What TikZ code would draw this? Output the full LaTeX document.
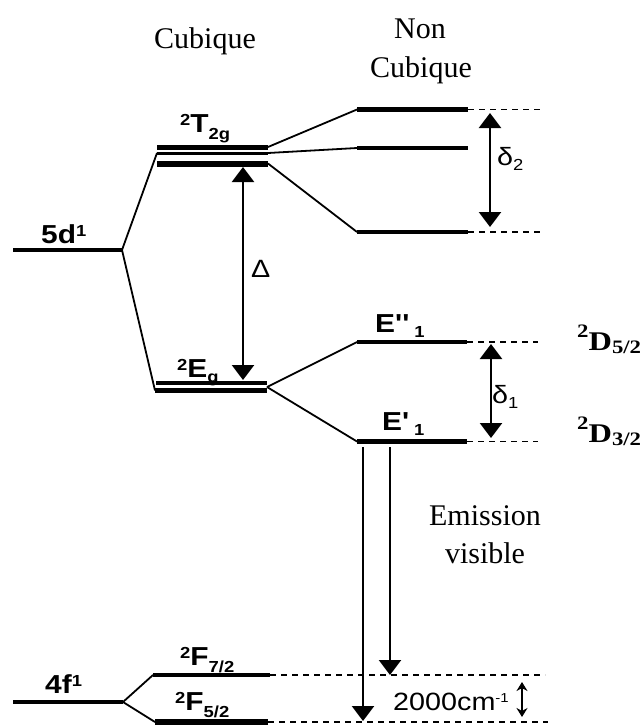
\documentclass[tikz,border=0pt]{standalone}
\usepackage{fontspec}
\setmainfont{Liberation Serif}
\newfontfamily\hv{Liberation Sans}
\usetikzlibrary{arrows.meta}
\newcommand\lsup[2][7pt]{\raisebox{#1}{\fontsize{16}{16}\selectfont #2}}
\newcommand\lsub[2][-6pt]{\raisebox{#1}{\fontsize{16}{16}\selectfont #2}}
\newcommand\hsc[1]{\scalebox{1.15}[1]{#1}}
\begin{document}
\begin{tikzpicture}[x=1pt,y=-1pt,
  lev/.style={line width=4.5pt},
  conn/.style={line width=1.8pt},
  dsh/.style={line width=1.4pt, dash pattern=on 6pt off 5pt},
  arr/.style={line width=2.5pt, -{Triangle[width=22pt,length=15pt]}},
  darr/.style={line width=2.5pt, {Triangle[width=22pt,length=15pt]}-{Triangle[width=22pt,length=15pt]}},
  sarr/.style={line width=2pt, {Stealth[width=11pt,length=9pt]}-{Stealth[width=11pt,length=9pt]}},
  lab/.style={font=\hv\bfseries\fontsize{26}{26}\selectfont, inner sep=0pt, anchor=base west},
  rlab/.style={font=\hv\fontsize{25}{25}\selectfont, inner sep=0pt, anchor=base west},
  ser/.style={font=\fontsize{30}{36}\selectfont, inner sep=0pt, anchor=base},
  dlab/.style={font=\bfseries\fontsize{27}{27}\selectfont, inner sep=0pt, anchor=base west},
]
\useasboundingbox (0,0) rectangle (644,726);
% ---- coordinates of levels
\coordinate (d5L) at (13,250);   \coordinate (d5R) at (122,250);
\coordinate (t1L) at (157,147);  \coordinate (t1R) at (268,147);
\coordinate (t2L) at (157,153);  \coordinate (t2R) at (268,153);
\coordinate (t3L) at (157,163.5);\coordinate (t3R) at (268,163.5);
\coordinate (n1L) at (357,109.5);\coordinate (n1R) at (468,109.5); \coordinate (n1D) at (540,109.5);
\coordinate (n2L) at (357,148);  \coordinate (n2R) at (468,148);
\coordinate (n3L) at (357,232);  \coordinate (n3R) at (468,232);  \coordinate (n3D) at (540,232);
\coordinate (e1L) at (156,383);  \coordinate (e1R) at (267,383);
\coordinate (e2L) at (155,390.5);\coordinate (e2R) at (267,390.5);
\coordinate (eR) at (267,387);
\coordinate (ppL) at (357,342);  \coordinate (ppR) at (467,342);  \coordinate (ppD) at (538,342);
\coordinate (pL) at (357,441.5); \coordinate (pR) at (467,441.5); \coordinate (pD) at (538,441.5);
\coordinate (f4L) at (13,702);   \coordinate (f4R) at (123,702);
\coordinate (f7L) at (153,675);  \coordinate (f7R) at (270,675);  \coordinate (f7D) at (545,675);
\coordinate (f5L) at (155,722);  \coordinate (f5R) at (268,722);  \coordinate (f5D) at (548,722);
% ---- arrow end points
\coordinate (DeT) at (243,167);  \coordinate (DeB) at (243,380);
\coordinate (d2T) at (490,113);  \coordinate (d2B) at (490,227);
\coordinate (d1T) at (491,344);  \coordinate (d1B) at (491,438);
\coordinate (m1S) at (363,447);  \coordinate (m1E) at (363,721);
\coordinate (m2S) at (390,447);  \coordinate (m2E) at (390,675);
\coordinate (sT) at (522,682);   \coordinate (sB) at (522,717);
% ---- levels
\draw[lev] (d5L) -- (d5R);
\draw[line width=5pt] (t1L) -- (t1R);
\draw[line width=3pt] (t2L) -- (t2R);
\draw[line width=6pt] (t3L) -- (t3R);
\draw[lev] (n1L) -- (n1R);
\draw[lev] (n2L) -- (n2R);
\draw[lev] (n3L) -- (n3R);
\draw[lev] (e1L) -- (e1R);
\draw[lev] (e2L) -- (e2R);
\draw[lev] (ppL) -- (ppR);
\draw[lev] (pL) -- (pR);
\draw[lev] (f4L) -- (f4R);
\draw[lev] (f7L) -- (f7R);
\draw[line width=5.5pt] (f5L) -- (f5R);
% ---- dashed extensions
\draw[dsh] (n1R) -- (n1D);
\draw[dsh] (n3R) -- (n3D);
\draw[dsh] (ppR) -- (ppD);
\draw[dsh] (pR) -- (pD);
\draw[dsh] (f7R) -- (f7D);
\draw[dsh] (f5R) -- (f5D);
% ---- correlation lines
\draw[conn] (d5R) -- (t2L);
\draw[conn] (d5R) -- (e2L);
\draw[conn] (t1R) -- (n1L);
\draw[conn] (t2R) -- (n2L);
\draw[conn] (t3R) -- (n3L);
\draw[conn] (eR) -- (ppL);
\draw[conn] (eR) -- (pL);
\draw[conn] (f4R) -- (f7L);
\draw[conn] (f4R) -- (f5L);
% ---- arrows
\draw[darr] (DeT) -- (DeB);
\draw[darr] (d2T) -- (d2B);
\draw[darr] (d1T) -- (d1B);
\draw[arr] (m1S) -- (m1E);
\draw[arr] (m2S) -- (m2E);
\draw[sarr] (sT) -- (sB);
% ---- serif titles
\node[ser] (tcub) at (205,48) {Cubique};
\node[ser] (tnon) at (420,38) {Non};
\node[ser] (tnc) at (421,77) {Cubique};
\node[ser] (tem) at (485,525) {Emission};
\node[ser] (tvis) at (485,563) {visible};
\node[dlab] (D52) at (577,350) {\scalebox{1.2}[1]{\raisebox{13pt}{\fontsize{19}{19}\selectfont 2}D\raisebox{-3pt}{\fontsize{19}{19}\selectfont 5/2}}};
\node[dlab] (D32) at (577,442) {\scalebox{1.2}[1]{\raisebox{13pt}{\fontsize{19}{19}\selectfont 2}D\raisebox{-3pt}{\fontsize{19}{19}\selectfont 3/2}}};
% ---- level labels
\node[lab] (l5d) at (41,243) {\hsc{5d\lsup{1}}};
\node[lab] (lT) at (180,132) {\hsc{\lsup{2}T\lsub[-7pt]{2g}}};
\node[lab] (lE) at (177,377) {\hsc{\lsup{2}E\lsub[-5pt]{g}}};
\node[lab] (lEpp) at (375,332) {\hsc{E''\,\lsub[-5pt]{1}}};
\node[lab] (lEp) at (382,430) {\hsc{E'\,\lsub[-5pt]{1}}};
\node[lab] (l4f) at (45,693) {\hsc{4f\lsup{1}}};
\node[lab] (lF7) at (180,665) {\hsc{\lsup{2}F\lsub[-7pt]{7/2}}};
\node[lab] (lF5) at (175,710) {\hsc{\lsup{2}F\lsub[-7pt]{5/2}}};
% ---- regular labels
\node[rlab] (lDelta) at (251,277) {\hsc{Δ}};
\node[rlab] (ld2) at (497,165) {\hsc{δ\lsub[-5pt]{2}}};
\node[rlab] (ld1) at (492,403) {\hsc{δ\lsub[-5pt]{1}}};
\node[rlab] (l2000) at (393,710) {\scalebox{1.15}[1]{2000cm\raisebox{8pt}{\fontsize{13}{13}\selectfont -1}}};
\end{tikzpicture}
\end{document}
